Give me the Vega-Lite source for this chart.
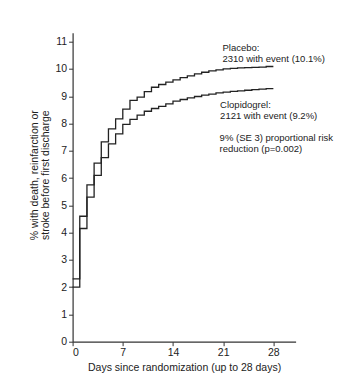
{
  "$schema": "https://vega.github.io/schema/vega-lite/v6.json",
  "width": 223,
  "height": 309,
  "autosize": "none",
  "padding": {"left": 72.6, "top": 32.7, "right": 47.4, "bottom": 44.3},
  "background": "white",
  "config": {
    "view": {"stroke": null},
    "font": "Liberation Sans",
    "axis": {"grid": false, "domainColor": "#333", "tickColor": "#333", "labelColor": "#222", "titleColor": "#222", "labelFont": "Liberation Sans", "titleFont": "Liberation Sans", "titleFontWeight": "normal", "labelFontSize": 10.5, "titleFontSize": 10.5, "tickSize": 4, "domainWidth": 1.2, "tickWidth": 1, "labelOverlap": false}
  },
  "datasets": {
    "curves": [
      {"day": 0, "pct": 2.3, "group": "Placebo"},
      {"day": 1, "pct": 4.6, "group": "Placebo"},
      {"day": 2, "pct": 5.75, "group": "Placebo"},
      {"day": 3, "pct": 6.55, "group": "Placebo"},
      {"day": 4, "pct": 7.33, "group": "Placebo"},
      {"day": 5, "pct": 7.8, "group": "Placebo"},
      {"day": 6, "pct": 8.17, "group": "Placebo"},
      {"day": 7, "pct": 8.53, "group": "Placebo"},
      {"day": 8, "pct": 8.85, "group": "Placebo"},
      {"day": 9, "pct": 8.97, "group": "Placebo"},
      {"day": 10, "pct": 9.17, "group": "Placebo"},
      {"day": 11, "pct": 9.33, "group": "Placebo"},
      {"day": 12, "pct": 9.43, "group": "Placebo"},
      {"day": 13, "pct": 9.52, "group": "Placebo"},
      {"day": 14, "pct": 9.6, "group": "Placebo"},
      {"day": 15, "pct": 9.68, "group": "Placebo"},
      {"day": 16, "pct": 9.75, "group": "Placebo"},
      {"day": 17, "pct": 9.82, "group": "Placebo"},
      {"day": 18, "pct": 9.88, "group": "Placebo"},
      {"day": 19, "pct": 9.93, "group": "Placebo"},
      {"day": 20, "pct": 9.97, "group": "Placebo"},
      {"day": 21, "pct": 10.0, "group": "Placebo"},
      {"day": 22, "pct": 10.02, "group": "Placebo"},
      {"day": 23, "pct": 10.04, "group": "Placebo"},
      {"day": 24, "pct": 10.05, "group": "Placebo"},
      {"day": 25, "pct": 10.06, "group": "Placebo"},
      {"day": 26, "pct": 10.07, "group": "Placebo"},
      {"day": 27, "pct": 10.09, "group": "Placebo"},
      {"day": 28, "pct": 10.09, "group": "Placebo"},
      {"day": 0, "pct": 2.0, "group": "Clopidogrel"},
      {"day": 1, "pct": 4.15, "group": "Clopidogrel"},
      {"day": 2, "pct": 5.3, "group": "Clopidogrel"},
      {"day": 3, "pct": 6.1, "group": "Clopidogrel"},
      {"day": 4, "pct": 6.75, "group": "Clopidogrel"},
      {"day": 5, "pct": 7.25, "group": "Clopidogrel"},
      {"day": 6, "pct": 7.62, "group": "Clopidogrel"},
      {"day": 7, "pct": 7.97, "group": "Clopidogrel"},
      {"day": 8, "pct": 8.15, "group": "Clopidogrel"},
      {"day": 9, "pct": 8.31, "group": "Clopidogrel"},
      {"day": 10, "pct": 8.45, "group": "Clopidogrel"},
      {"day": 11, "pct": 8.55, "group": "Clopidogrel"},
      {"day": 12, "pct": 8.63, "group": "Clopidogrel"},
      {"day": 13, "pct": 8.72, "group": "Clopidogrel"},
      {"day": 14, "pct": 8.82, "group": "Clopidogrel"},
      {"day": 15, "pct": 8.88, "group": "Clopidogrel"},
      {"day": 16, "pct": 8.94, "group": "Clopidogrel"},
      {"day": 17, "pct": 8.99, "group": "Clopidogrel"},
      {"day": 18, "pct": 9.04, "group": "Clopidogrel"},
      {"day": 19, "pct": 9.08, "group": "Clopidogrel"},
      {"day": 20, "pct": 9.12, "group": "Clopidogrel"},
      {"day": 21, "pct": 9.15, "group": "Clopidogrel"},
      {"day": 22, "pct": 9.18, "group": "Clopidogrel"},
      {"day": 23, "pct": 9.2, "group": "Clopidogrel"},
      {"day": 24, "pct": 9.22, "group": "Clopidogrel"},
      {"day": 25, "pct": 9.24, "group": "Clopidogrel"},
      {"day": 26, "pct": 9.26, "group": "Clopidogrel"},
      {"day": 27, "pct": 9.28, "group": "Clopidogrel"},
      {"day": 28, "pct": 9.28, "group": "Clopidogrel"}
    ],
    "notes": [
      {"day": 20.9, "pct": 10.76, "label": "Placebo:"},
      {"day": 20.9, "pct": 10.36, "label": "2310 with event (10.1%)"},
      {"day": 20.57, "pct": 8.68, "label": "Clopidogrel:"},
      {"day": 20.57, "pct": 8.28, "label": "2121 with event (9.2%)"},
      {"day": 20.5, "pct": 7.46, "label": "9% (SE 3) proportional risk"},
      {"day": 20.5, "pct": 7.06, "label": "reduction (p=0.002)"}
    ]
  },
  "layer": [
    {
      "data": {"name": "curves"},
      "mark": {"type": "line", "interpolate": "step-after", "color": "#222", "strokeWidth": 1.3},
      "encoding": {
        "x": {"field": "day", "type": "quantitative", "scale": {"domain": [0, 31.1], "nice": false},
          "axis": {"values": [0, 7, 14, 21, 28], "tickCount": 6, "title": "Days since randomization (up to 28 days)", "titlePadding": 4, "labelPadding": 2}},
        "y": {"field": "pct", "type": "quantitative", "scale": {"domain": [0, 11.33], "nice": false},
          "axis": {"values": [0, 1, 2, 3, 4, 5, 6, 7, 8, 9, 10, 11], "tickCount": 12, "title": ["% with death, reinfarction or", "stroke before first discharge"], "titleLineHeight": 11.5, "titlePadding": 4, "titleY": 142, "labelPadding": 2}},
        "detail": {"field": "group"}
      }
    },
    {
      "data": {"name": "notes"},
      "mark": {"type": "text", "align": "left", "baseline": "middle", "fontSize": 9.5, "color": "#222", "font": "Liberation Sans"},
      "encoding": {
        "x": {"field": "day", "type": "quantitative"},
        "y": {"field": "pct", "type": "quantitative"},
        "text": {"field": "label"}
      }
    }
  ]
}
